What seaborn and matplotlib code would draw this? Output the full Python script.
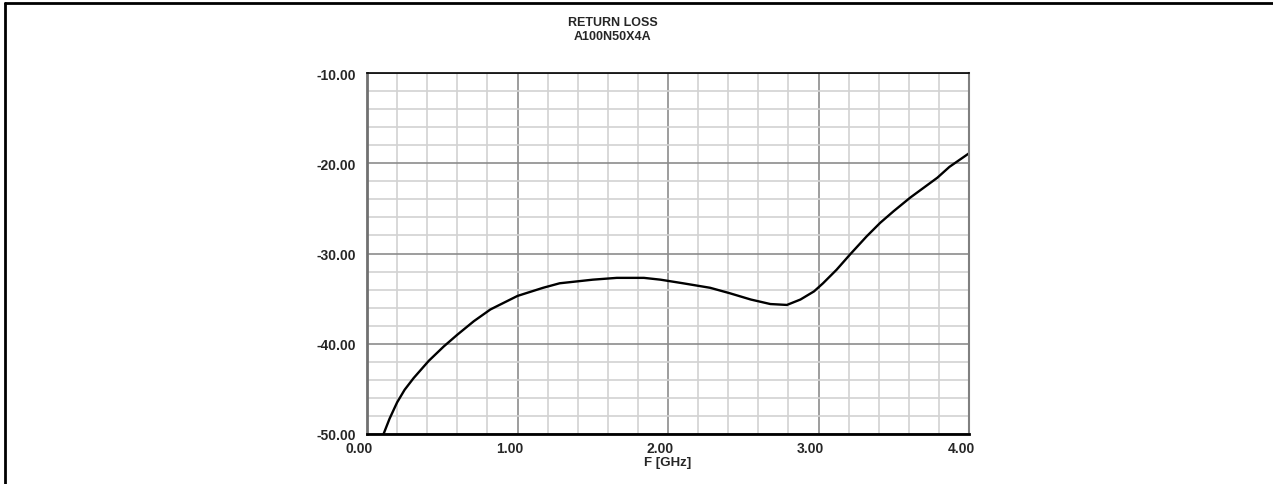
#!/usr/bin/env python3
import numpy as np
import pandas as pd
import seaborn as sns
import matplotlib as mpl
import matplotlib.ticker
import matplotlib.transforms
import matplotlib.pyplot as plt
from matplotlib.lines import Line2D

sns.set_style("white")
mpl.rcParams["font.family"] = ["Liberation Sans", "DejaVu Sans"]
mpl.rcParams["axes.unicode_minus"] = False

# return loss curve
freq_ghz = [0.11, 0.15, 0.20, 0.25, 0.31, 0.41, 0.51, 0.60, 0.71, 0.82, 1.00,
            1.17, 1.28, 1.39, 1.50, 1.66, 1.84, 1.95, 2.10, 2.28, 2.41, 2.55,
            2.68, 2.79, 2.88, 2.97, 3.03, 3.12, 3.21, 3.32, 3.41, 3.50, 3.61,
            3.70, 3.79, 3.87, 4.00]
return_loss_db = [-50.0, -48.3, -46.5, -45.1, -43.8, -41.9, -40.3, -39.0, -37.5,
                  -36.2, -34.7, -33.8, -33.3, -33.1, -32.9, -32.7, -32.7, -32.9,
                  -33.3, -33.8, -34.4, -35.1, -35.6, -35.7, -35.1, -34.2, -33.3,
                  -31.8, -30.1, -28.1, -26.6, -25.3, -23.8, -22.7, -21.6, -20.4,
                  -18.9]
x_ticks = [0.0, 1.0, 2.0, 3.0, 4.0]
y_ticks = [-50.0, -40.0, -30.0, -20.0, -10.0]

df = pd.DataFrame({"F [GHz]": freq_ghz, "RL": return_loss_db})

fig = plt.figure(figsize=(12.73, 4.85), dpi=100)
ax = fig.add_axes([367 / 1273, 50 / 485, 602 / 1273, 361 / 485])

sns.lineplot(data=df, x="F [GHz]", y="RL", ax=ax, color="black", lw=1.7)

ax.set_xlim(0, 4)
ax.set_ylim(-50, -10)
ax.xaxis.set_major_locator(mpl.ticker.FixedLocator(x_ticks))
ax.yaxis.set_major_locator(mpl.ticker.FixedLocator(y_ticks))
ax.xaxis.set_minor_locator(mpl.ticker.MultipleLocator(0.2))
ax.yaxis.set_minor_locator(mpl.ticker.MultipleLocator(2))
ax.xaxis.set_major_formatter(mpl.ticker.FormatStrFormatter("%.2f"))
ax.yaxis.set_major_formatter(mpl.ticker.FormatStrFormatter("%.2f"))

ax.grid(which="minor", color="#d2d2d2", lw=1.2)
ax.grid(which="major", color="#8c8c8c", lw=1.2)
ax.set_axisbelow(True)

ax.tick_params(which="both", direction="out", length=3, width=1, color="#555555")
ax.tick_params(axis="y", which="major", pad=5)
ax.tick_params(axis="x", which="major", pad=2)

# x tick labels sit a little left of their ticks in the reference
shift = mpl.transforms.ScaledTranslation(-8 / 100, 0, fig.dpi_scale_trans)
for lbl in ax.get_xticklabels():
    lbl.set_transform(lbl.get_transform() + shift)
for lbl in ax.get_xticklabels() + ax.get_yticklabels():
    lbl.set_fontweight("bold")
    lbl.set_fontsize(10)

ax.spines["bottom"].set_color("black")
ax.spines["bottom"].set_linewidth(2)
ax.spines["top"].set_color("black")
ax.spines["top"].set_linewidth(1.2)
ax.spines["left"].set_color("#707070")
ax.spines["left"].set_linewidth(2)
ax.spines["right"].set_color("#808080")
ax.spines["right"].set_linewidth(1.5)

ax.set_ylabel("")
ax.set_xlabel("F [GHz]", fontsize=9.5, fontweight="bold", labelpad=1)

fig.text(613 / 1273, 1 - 30 / 485, "RETURN LOSS\nA100N50X4A", ha="center",
         va="center", fontsize=9, fontweight="bold", linespacing=1.15)

# outer frame (top and left edges only)
fig.add_artist(Line2D([5 / 1273, 1.0], [1 - 4 / 485, 1 - 4 / 485],
                      transform=fig.transFigure, color="black", lw=2))
fig.add_artist(Line2D([5 / 1273, 5 / 1273], [0.0, 1 - 4 / 485],
                      transform=fig.transFigure, color="black", lw=2))

plt.savefig("out.png", dpi=100)
